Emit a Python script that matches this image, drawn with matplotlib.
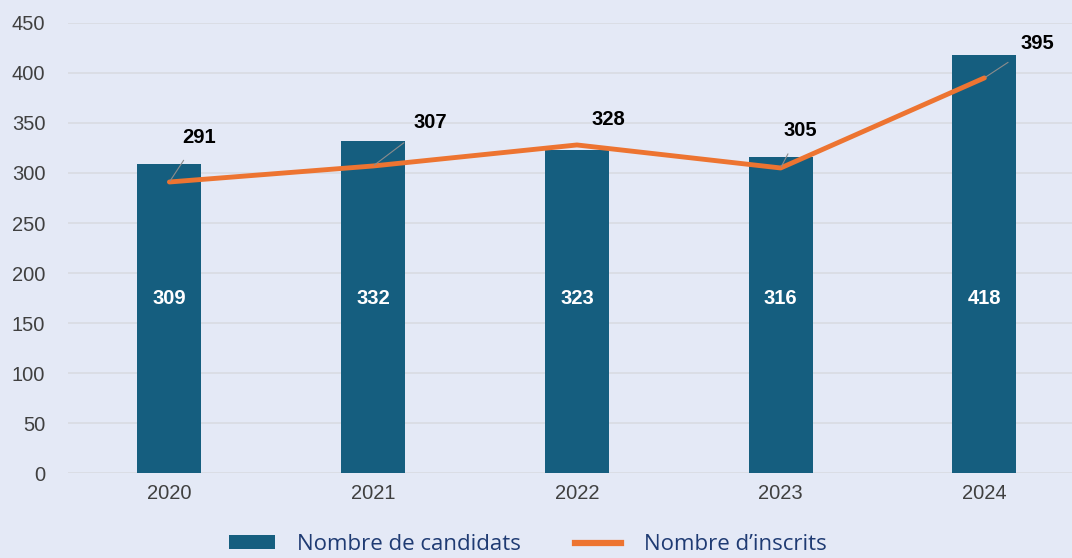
import matplotlib
matplotlib.use('Agg')
from matplotlib import pyplot as plt
from matplotlib.patches import Patch
from matplotlib.lines import Line2D

years = ['2020', '2021', '2022', '2023', '2024']
candidats = [309, 332, 323, 316, 418]
inscrits = [291, 307, 328, 305, 395]
yticks = [0, 50, 100, 150, 200, 250, 300, 350, 400, 450]

bg = '#e4e9f6'
barColor = '#155e7f'
lineColor = '#ed7431'

fig = plt.figure(figsize=(10.72, 5.58), dpi=100, facecolor=bg)
ax = fig.add_axes([0.063, 0.152, 0.937, 0.807], facecolor=bg)

x = list(range(len(years)))
ax.bar(x, candidats, width=0.315, color=barColor, zorder=2)
ax.plot(x, inscrits, color=lineColor, linewidth=3.5, zorder=3, solid_capstyle='round')

# white labels inside bars
for i, v in enumerate(candidats):
    ax.text(i, 175, str(v), ha='center', va='center', color='white',
            fontsize=14.5, fontweight='bold', family='Liberation Sans', zorder=4)

# line labels with leader lines (offsets in points)
offsets = [(21, 32), (41, 31), (23, 18), (14, 27), (38, 25)]
for i, v in enumerate(inscrits):
    dx, dy = offsets[i]
    ax.annotate(str(v), xy=(i, v), xytext=(dx, dy), textcoords='offset points',
                ha='center', va='center', fontsize=14.5, fontweight='bold',
                family='Liberation Sans', color='black', zorder=5,
                arrowprops=dict(arrowstyle='-', color='#8c8c8c', lw=0.8,
                                shrinkA=9, shrinkB=1) if i != 2 else None)

ax.set_ylim(0, 450)
ax.set_xlim(-0.5, 4.43)
ax.set_yticks(yticks)
ax.set_xticks(x)
ax.set_xticklabels(years)
ax.grid(axis='y', color='#d8dbe2', linewidth=1.2, zorder=0)
ax.set_axisbelow(True)
for s in ax.spines.values():
    s.set_visible(False)
ax.tick_params(length=0, labelsize=14.5, colors='#404040', pad=8)
for lab in ax.get_xticklabels() + ax.get_yticklabels():
    lab.set_family('Liberation Sans')
ax.tick_params(axis='y', pad=16)

handles = [Patch(facecolor=barColor, label='Nombre de candidats'),
           Line2D([0], [0], color=lineColor, lw=4.5, label='Nombre d\u2019inscrits')]
fig.legend(handles=handles, loc='center', bbox_to_anchor=(0.492, 0.024), ncol=2,
           frameon=False, labelcolor='#1f3b73', handlelength=2.1, handleheight=0.6,
           handletextpad=1.0, columnspacing=2.4, borderpad=0.2,
           prop={'family': 'Open Sans', 'size': 16})

fig.savefig('out.png', dpi=100, facecolor=bg)
